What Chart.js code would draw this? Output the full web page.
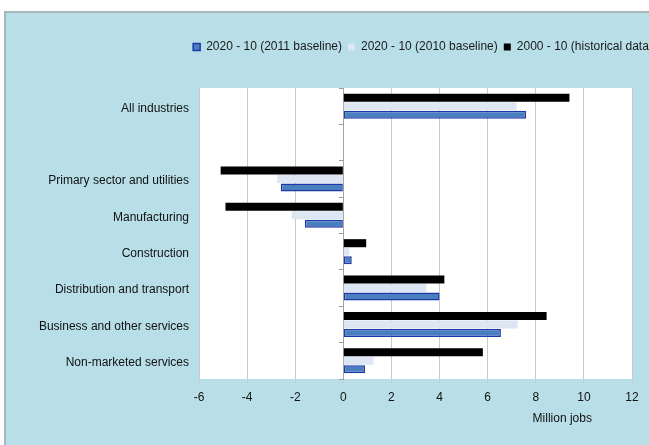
<!DOCTYPE html>
<html>
<head>
<meta charset="utf-8">
<script src="https://cdn.jsdelivr.net/npm/chart.js@4"></script>
<style>
    html, body { margin: 0; padding: 0; width: 649px; height: 445px; overflow: hidden; background: #fff; }
    #panel { position: absolute; left: 4px; top: 11px; width: 649px; height: 440px; background: #b8dee8; border-top: 2px solid #a9b6ba; border-left: 2px solid #a9b6ba; }
    #wrap { position: absolute; left: 0; top: 0; width: 846px; height: 445px; }
</style>
</head>
<body>
<div id="panel"></div>
<div id="wrap"><canvas id="myChart"></canvas></div>
<script>
// Categories (blank row kept as in the original chart)
const categories = [
    'All industries',
    '',
    'Primary sector and utilities',
    'Manufacturing',
    'Construction',
    'Distribution and transport',
    'Business and other services',
    'Non-marketed services'
];

// Million jobs
const historical = [9.4, null, -5.1, -4.9, 0.95, 4.2, 8.45, 5.8];     // 2000 - 10
const baseline2010 = [7.2, null, -2.75, -2.15, 0.25, 3.45, 7.25, 1.25];
const baseline2011 = [7.6, null, -2.6, -1.6, 0.35, 4.0, 6.55, 0.9];

const xTicks = [-6, -4, -2, 0, 2, 4, 6, 8, 10, 12];

const FONT = 'Liberation Sans, Arial, sans-serif';

// white plot area + axis title
const plotArea = {
    id: 'plotArea',
    beforeInit(chart) {
        const fit = chart.legend.fit;
        chart.legend.fit = function() {
            fit.bind(chart.legend)();
            this.height = 53; // room between legend and plot
        };
    },
    beforeDraw(chart) {
        const a = chart.chartArea;
        const ctx = chart.ctx;
        ctx.save();
        ctx.fillStyle = '#ffffff';
        ctx.fillRect(a.left, a.top, a.right - a.left, a.bottom - a.top);
        ctx.restore();
    },
    afterDraw(chart) {
        const x = chart.scales.x;
        const ctx = chart.ctx;
        ctx.save();
        ctx.font = '12px ' + FONT;
        ctx.fillStyle = '#111';
        ctx.textAlign = 'center';
        ctx.textBaseline = 'middle';
        ctx.fillText('Million jobs', x.getPixelForValue(9.1), x.top + 40);
        ctx.restore();
    }
};

const data = {
    labels: categories,
    datasets: [{
        label: '2000 - 10 (historical data)',
        data: historical,
        backgroundColor: '#000000',
        borderColor: '#000000',
        borderWidth: 0,
        yAxisID: 'y',
        xAxisID: 'x'
    }, {
        label: '2020 - 10 (2010 baseline)',
        data: baseline2010,
        backgroundColor: '#dce7f3',
        borderColor: '#dce7f3',
        borderWidth: 0,
        yAxisID: 'y',
        xAxisID: 'x'
    }, {
        label: '2020 - 10 (2011 baseline)',
        data: baseline2011,
        backgroundColor: '#4a7fbf',
        borderColor: '#1d38a8',
        borderWidth: 1.5,
        borderSkipped: false,
        yAxisID: 'y',
        xAxisID: 'x'
    }]
};

const config = {
    type: 'bar',
    data: data,
    plugins: [plotArea],
    options: {
        indexAxis: 'y',
        responsive: true,
        maintainAspectRatio: false,
        animation: false,
        categoryPercentage: 0.7,
        barPercentage: 0.95,
        layout: { padding: { top: 35, left: 0, right: 0, bottom: 0 } },
        plugins: {
            legend: {
                display: true,
                position: 'top',
                reverse: true,
                labels: {
                    boxWidth: 7,
                    boxHeight: 7,
                    padding: 6,
                    color: '#1a1a1a',
                    font: { family: FONT, size: 12 }
                }
            },
            tooltip: { enabled: false }
        },
        scales: {
            x: {
                type: 'linear',
                position: 'bottom',
                min: -6,
                max: 12,
                afterBuildTicks: s => { s.ticks = xTicks.map(v => ({ value: v })); },
                afterFit: s => { s.height = 66; },
                ticks: {
                    color: '#111',
                    padding: 7,
                    font: { family: FONT, size: 12 }
                },
                grid: {
                    color: '#cacaca',
                    lineWidth: 1,
                    tickLength: 4
                },
                border: { display: false }
            },
            y: {
                type: 'category',
                position: 'left',
                afterFit: s => { s.width = 199; },
                ticks: {
                    color: '#111',
                    padding: 2,
                    labelOffset: 2,
                    font: { family: FONT, size: 12 }
                },
                grid: { display: false },
                border: { display: false }
            },
            y2: {
                type: 'category',
                axis: 'y',
                position: { x: 0 },
                labels: categories,
                offset: true,
                ticks: { display: false },
                grid: {
                    drawOnChartArea: false,
                    offset: true,
                    tickLength: 4,
                    color: '#9a9a9a'
                },
                border: { display: true, color: '#a5a5a5', width: 1 }
            },
            yr: {
                type: 'linear',
                axis: 'y',
                position: 'right',
                afterFit: s => { s.width = 214; },
                ticks: { display: false },
                grid: { display: false },
                border: { display: false }
            }
        }
    }
};

const chart = new Chart(document.getElementById('myChart'), config);
</script>
</body>
</html>
